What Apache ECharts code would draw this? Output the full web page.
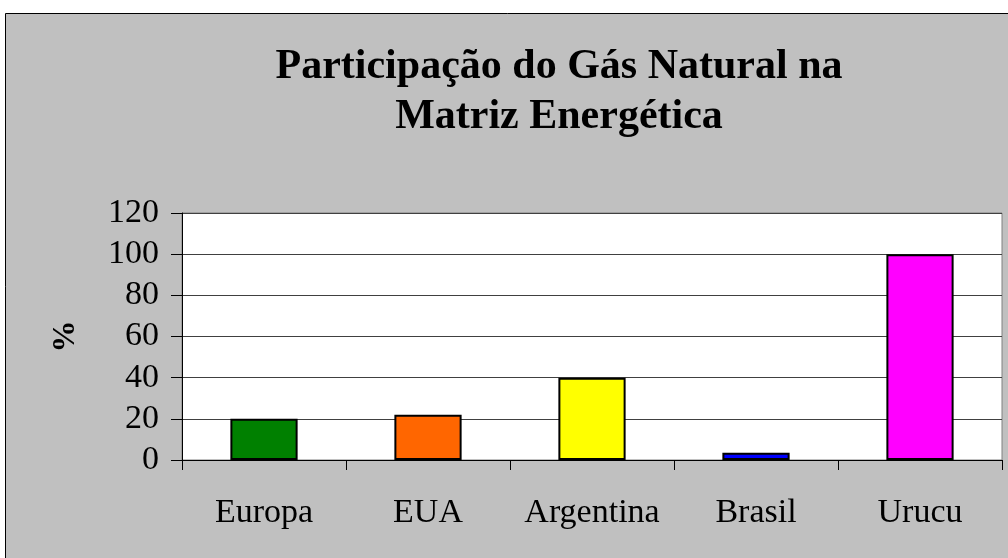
<!DOCTYPE html>
<html><head><meta charset="utf-8">
<script src="https://cdn.jsdelivr.net/npm/echarts@6/dist/echarts.min.js"></script>
<style>html,body{margin:0;padding:0;background:#fff}#c{width:1008px;height:558px}</style>
</head><body><div id="c"></div>
<script>
const categories = ["Europa", "EUA", "Argentina", "Brasil", "Urucu"];
const values = [20, 22, 40, 3.5, 100];
const barColors = ["#008000", "#ff6600", "#ffff00", "#0000ff", "#ff00ff"];
const yTicks = [0, 20, 40, 60, 80, 100, 120];
const titleLines = ["Participação do Gás Natural na", "Matriz Energética"];
const yName = "%";

const serif = "'Liberation Serif', 'DejaVu Serif', serif";
const chart = echarts.init(document.getElementById('c'));
chart.setOption({
  backgroundColor: '#ffffff',
  animation: false,
  graphic: [{
    type: 'rect', z: -10, silent: true,
    shape: { x: 5.5, y: 13.5, width: 1100, height: 600 },
    style: { fill: '#c0c0c0', stroke: '#000000', lineWidth: 1 }
  }],
  title: {
    text: titleLines.join('\n'),
    left: 554, top: 37, textAlign: 'center',
    textStyle: { fontFamily: serif, fontWeight: 'bold', fontSize: 42, lineHeight: 50, color: '#000' }
  },
  grid: {
    left: 182, right: 6, top: 213, bottom: 98,
    show: true, backgroundColor: '#ffffff', borderColor: '#808080', borderWidth: 1
  },
  xAxis: {
    type: 'category', data: categories,
    axisLine: { lineStyle: { color: '#000', width: 1 } },
    axisTick: { show: true, interval: 0, length: 10, lineStyle: { color: '#000' } },
    axisLabel: { interval: 0, fontFamily: serif, fontSize: 34, color: '#000', margin: 36 }
  },
  yAxis: {
    type: 'value', min: 0, max: 120, interval: 20,
    name: yName, nameLocation: 'middle', nameGap: 100, nameRotate: 90,
    nameTextStyle: { fontFamily: serif, fontWeight: 'bold', fontSize: 32, color: '#000' },
    axisLine: { show: true, lineStyle: { color: '#000', width: 1 } },
    axisTick: { show: true, length: 11, lineStyle: { color: '#000' } },
    axisLabel: { fontFamily: serif, fontSize: 34, color: '#000', margin: 23,
      formatter: v => yTicks.includes(v) ? String(v) : '' },
    splitLine: { show: true, lineStyle: { color: '#404040', width: 1 } }
  },
  series: [{
    type: 'bar', barWidth: '41%',
    data: values.map((v, i) => ({ value: v, itemStyle: { color: barColors[i] } })),
    itemStyle: { borderColor: '#000', borderWidth: 2 }
  }]
});
</script></body></html>
